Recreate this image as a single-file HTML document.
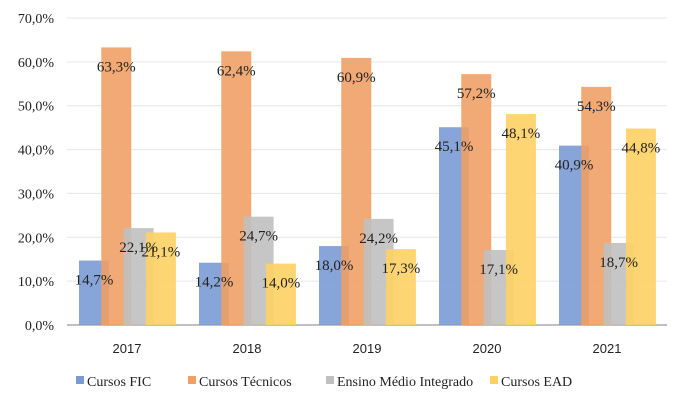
<!DOCTYPE html>
<html><head><meta charset="utf-8"><style>
body{margin:0;background:#fff}
svg text{font-family:"Liberation Serif",serif;font-size:14px;fill:#222}
svg text.v{font-size:15px}
svg text.xt{font-family:"Liberation Sans",sans-serif;font-size:13px}
</style></head><body>
<svg width="683" height="400">
<g id="grid"></g><g id="bars"></g><g id="labels"></g>
<g id="legend"></g>
</svg>
<script>
const years=["2017","2018","2019","2020","2021"];
const fic=[14.7,14.2,18.0,45.1,40.9];
const tec=[63.3,62.4,60.9,57.2,54.3];
const emi=[22.1,24.7,24.2,17.1,18.7];
const ead=[21.1,14.0,17.3,48.1,44.8];
const yTicks=[0,10,20,30,40,50,60,70];
const seriesNames=["Cursos FIC","Cursos Técnicos","Ensino Médio Integrado","Cursos EAD"];
const colors=["#7b9bd5","#f0a066","#c0c0c0","#fdd064"];
const NS="http://www.w3.org/2000/svg";
const x0=67,gw=120,base=325,k=(325-18)/70;
const y=v=>base-v*k;
function mk(t,a,p){const e=document.createElementNS(NS,t);for(const n in a)e.setAttribute(n,a[n]);p.appendChild(e);return e;}
const grid=document.getElementById('grid'),bars=document.getElementById('bars'),labels=document.getElementById('labels'),legend=document.getElementById('legend');
yTicks.forEach(t=>{
  const l=mk('line',{x1:x0,x2:667,y1:y(t),y2:y(t),stroke:t==0?'#bfbfbf':'#e6e6e6','stroke-width':t==0?2:1},grid);
  
  
  const tx=mk('text',{x:54,y:y(t)+5,'text-anchor':'end'},grid);tx.textContent=t.toFixed(1).replace('.',',')+'%';
  
  
});
const all=[fic,tec,emi,ead];
years.forEach((yr,i)=>{
  const gx=x0+i*gw;
  all.forEach((s,j)=>{
    const bx=gx+12+j*22.3;
    const r=mk('rect',{x:bx,y:y(s[i]),width:30,height:base-y(s[i]),fill:colors[j],opacity:0.9},bars);
    
    
    const t=mk('text',{x:bx+15,y:y(s[i])+24,'text-anchor':'middle','class':'v'},labels);t.textContent=s[i].toFixed(1).replace('.',',')+'%';
    
    
  });
  const t=mk('text',{x:gx+60,y:353,'text-anchor':'middle','class':'xt'},grid);t.textContent=yr;
  
  
});
const lx=[76,188,326,490];
seriesNames.forEach((n,j)=>{
  const r=mk('rect',{x:lx[j],y:376,width:8,height:8,fill:colors[j]},legend);
  
  
  const t=mk('text',{x:lx[j]+11,y:386},legend);t.textContent=n;
  
  
});
</script>
</body></html>
